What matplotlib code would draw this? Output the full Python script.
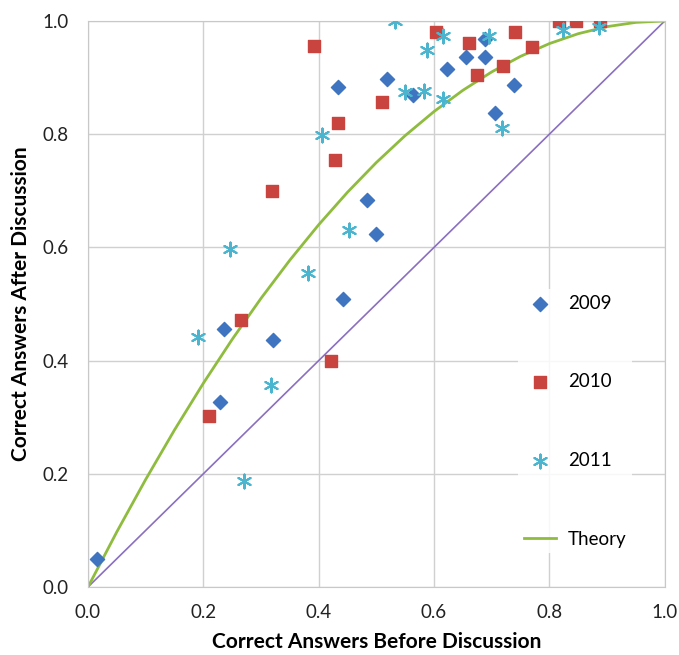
import matplotlib
matplotlib.use('Agg')
import matplotlib.pyplot as plt

plt.rcParams['font.family'] = ['Lato', 'DejaVu Sans']

# values
x2009 = [0.016, 0.236, 0.321, 0.229, 0.442, 0.434, 0.483, 0.499, 0.518, 0.564,
         0.623, 0.655, 0.688, 0.688, 0.705, 0.738]
y2009 = [0.049, 0.455, 0.436, 0.327, 0.509, 0.883, 0.684, 0.623, 0.897, 0.870,
         0.916, 0.936, 0.936, 0.968, 0.837, 0.886]

x2010 = [0.265, 0.210, 0.421, 0.392, 0.433, 0.429, 0.319, 0.510, 0.604, 0.661,
         0.675, 0.720, 0.741, 0.769, 0.816, 0.847, 0.887]
y2010 = [0.472, 0.302, 0.399, 0.956, 0.819, 0.754, 0.700, 0.857, 0.980, 0.961,
         0.905, 0.920, 0.980, 0.954, 1.000, 1.000, 1.000]

x2011 = [0.190, 0.317, 0.270, 0.246, 0.382, 0.405, 0.452, 0.532, 0.549, 0.583,
         0.588, 0.616, 0.616, 0.695, 0.718, 0.824, 0.886]
y2011 = [0.441, 0.356, 0.187, 0.597, 0.554, 0.799, 0.631, 1.000, 0.874, 0.876,
         0.948, 0.974, 0.863, 0.974, 0.811, 0.984, 0.989]

theory_x = [0.0, 0.05, 0.1, 0.15, 0.2, 0.25, 0.3, 0.35, 0.4, 0.45, 0.5,
            0.55, 0.6, 0.65, 0.7, 0.75, 0.8, 0.85, 0.9, 0.95, 1.0]
theory_y = [0.0, 0.0975, 0.19, 0.2775, 0.36, 0.4375, 0.51, 0.5775, 0.64, 0.6975, 0.75,
            0.7975, 0.84, 0.8775, 0.91, 0.9375, 0.96, 0.9775, 0.99, 0.9975, 1.0]

diag = [0.0, 1.0]
ticks = [0.0, 0.2, 0.4, 0.6, 0.8, 1.0]

fig = plt.figure(figsize=(6.79, 6.55), dpi=100)
ax = fig.add_axes([0.1296, 0.1038, 0.8494, 0.8642])

ax.plot(diag, diag, color='#8a6fc0', linewidth=1.2, zorder=2)
theory, = ax.plot(theory_x, theory_y, color='#8fbc3f', linewidth=2.0, zorder=2,
                  label='Theory')
s09 = ax.scatter(x2009, y2009, marker='D', s=52, color='#3f74c0', zorder=3,
                 label='2009')
s10 = ax.scatter(x2010, y2010, marker='s', s=80, color='#c9443f', zorder=3,
                 label='2010')
s11 = ax.scatter(x2011, y2011, marker=(6, 2, 0), s=100, color='#4bb5d0',
                 linewidths=1.5, zorder=3, label='2011')

ax.set_xlim(0, 1)
ax.set_ylim(0, 1)
ax.set_xticks(ticks)
ax.set_yticks(ticks)
ax.set_xticklabels([f'{t:.1f}' for t in ticks])
ax.set_yticklabels([f'{t:.1f}' for t in ticks])
ax.tick_params(length=0, labelsize=13.5, colors='#222222')
ax.tick_params(axis='x', pad=12)
ax.tick_params(axis='y', pad=14)
ax.grid(True, color='#d0d0d0', linewidth=1.0)
ax.set_axisbelow(True)
for sp in ax.spines.values():
    sp.set_color('#c8c8c8')

ax.set_xlabel('Correct Answers Before Discussion', fontsize=15, fontweight='bold',
              labelpad=8)
ax.set_ylabel('Correct Answers After Discussion', fontsize=15, fontweight='bold',
              labelpad=8)

leg = ax.legend(handles=[s09, s10, s11, theory], loc='center left',
                bbox_to_anchor=(0.73, 0.293), frameon=True, fontsize=13.5,
                labelspacing=3.29, handlelength=1.7, handletextpad=0.65,
                borderpad=0.3)
leg.get_frame().set_edgecolor('none')
leg.get_frame().set_facecolor('white')
leg.get_frame().set_alpha(0.85)

fig.savefig('out.png', dpi=100)
